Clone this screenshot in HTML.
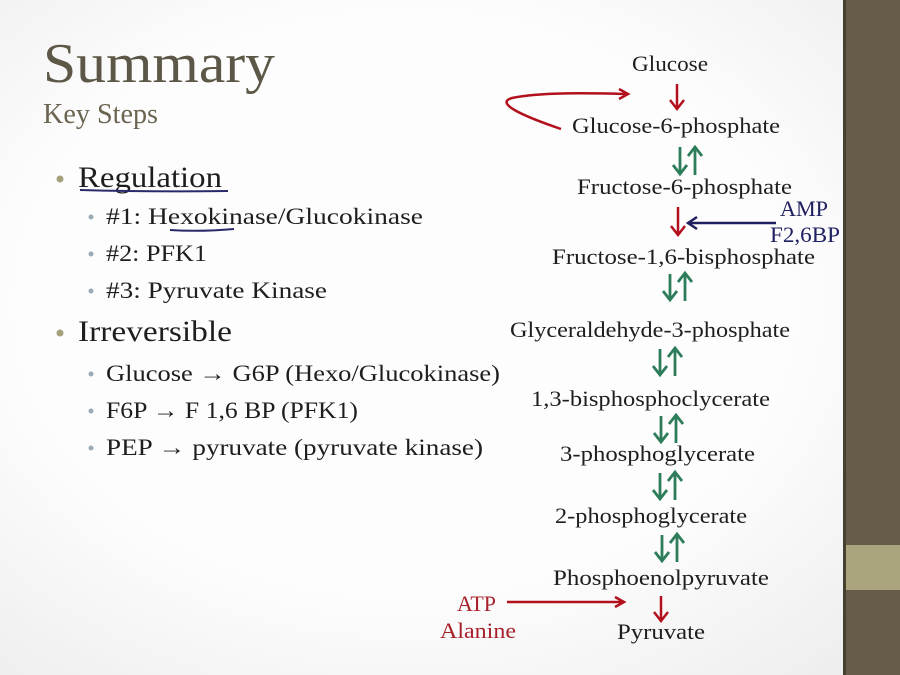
<!DOCTYPE html>
<html><head><style>
body{margin:0;width:900px;height:675px;overflow:hidden;background:radial-gradient(ellipse at 45% 45%,#fdfdfd 55%,#ebebeb 100%);position:relative}
</style></head><body>
<div style="position:absolute;left:843px;top:0;width:3px;height:675px;background:#45402f"></div>
<div style="position:absolute;left:846px;top:0;width:54px;height:675px;background:#675c4a"></div>
<div style="position:absolute;left:846px;top:545px;width:54px;height:45px;background:#aba57e"></div>

<svg width="900" height="675" style="position:absolute;left:0;top:0" font-family="Liberation Serif,serif" fill="#1e1e1e" lengthAdjust="spacingAndGlyphs">
<text x="43" y="82" font-size="56" fill="#5c5746" textLength="232" lengthAdjust="spacingAndGlyphs">Summary</text>
<text x="43" y="123" font-size="29" fill="#6b6450" textLength="115" lengthAdjust="spacingAndGlyphs">Key Steps</text>
<circle cx="60" cy="179" r="3.5" fill="#a3a27a"/>
<text x="78" y="187" font-size="30" textLength="144" lengthAdjust="spacingAndGlyphs">Regulation</text>
<path d="M80 190Q150 192 228 191" stroke="#2a2a6a" stroke-width="2" fill="none"/>
<g fill="#9aabb5"><circle cx="91" cy="217" r="2.5"/><circle cx="91" cy="254" r="2.5"/><circle cx="91" cy="291" r="2.5"/><circle cx="91" cy="374" r="2.5"/><circle cx="91" cy="411" r="2.5"/><circle cx="91" cy="448" r="2.5"/></g>
<g font-size="23">
<text x="106" y="224" textLength="317" lengthAdjust="spacingAndGlyphs">#1: Hexokinase/Glucokinase</text>
<text x="106" y="261" textLength="101" lengthAdjust="spacingAndGlyphs">#2: PFK1</text>
<text x="106" y="298" textLength="221" lengthAdjust="spacingAndGlyphs">#3: Pyruvate Kinase</text>
<text x="106" y="381" textLength="394" lengthAdjust="spacingAndGlyphs">Glucose <tspan font-weight="bold">→</tspan> G6P (Hexo/Glucokinase)</text>
<text x="106" y="418" textLength="252" lengthAdjust="spacingAndGlyphs">F6P <tspan font-weight="bold">→</tspan> F 1,6 BP (PFK1)</text>
<text x="106" y="455" textLength="377" lengthAdjust="spacingAndGlyphs">PEP <tspan font-weight="bold">→</tspan> pyruvate (pyruvate kinase)</text>
</g>
<path d="M170 230Q200 232 234 229" stroke="#2a2a6a" stroke-width="2" fill="none"/>
<circle cx="60" cy="333" r="3.5" fill="#a3a27a"/>
<text x="78" y="341" font-size="30" textLength="154" lengthAdjust="spacingAndGlyphs">Irreversible</text>

<g font-size="22">
<text x="632" y="71" textLength="76" lengthAdjust="spacingAndGlyphs">Glucose</text>
<text x="572" y="133" textLength="208" lengthAdjust="spacingAndGlyphs">Glucose-6-phosphate</text>
<text x="577" y="194" textLength="215" lengthAdjust="spacingAndGlyphs">Fructose-6-phosphate</text>
<text x="552" y="264" textLength="263" lengthAdjust="spacingAndGlyphs">Fructose-1,6-bisphosphate</text>
<text x="510" y="337" textLength="280" lengthAdjust="spacingAndGlyphs">Glyceraldehyde-3-phosphate</text>
<text x="531" y="406" textLength="239" lengthAdjust="spacingAndGlyphs">1,3-bisphosphoclycerate</text>
<text x="560" y="461" textLength="195" lengthAdjust="spacingAndGlyphs">3-phosphoglycerate</text>
<text x="555" y="523" textLength="192" lengthAdjust="spacingAndGlyphs">2-phosphoglycerate</text>
<text x="553" y="585" textLength="216" lengthAdjust="spacingAndGlyphs">Phosphoenolpyruvate</text>
<text x="617" y="639" textLength="88" lengthAdjust="spacingAndGlyphs">Pyruvate</text>
<text x="780" y="216" fill="#1f2060" textLength="48" lengthAdjust="spacingAndGlyphs">AMP</text>
<text x="770" y="242" fill="#1f2060" textLength="70" lengthAdjust="spacingAndGlyphs">F2,6BP</text>
<text x="457" y="611" fill="#a8202a" textLength="39" lengthAdjust="spacingAndGlyphs">ATP</text>
<text x="440" y="638" fill="#a8202a" textLength="76" lengthAdjust="spacingAndGlyphs">Alanine</text>
</g>
<g stroke="#b3101e" stroke-width="2.5" fill="none">
<path d="M677 84V108M670 100L677 109L684 100"/>
<path d="M678 207V234M671 226L678 235L685 226"/>
<path d="M661 596V620M654 612L661 621L668 612"/>
<path d="M561 129C520 115 495 103 512 98C540 92 590 93 627 94M619 89L628 94L619 99"/>
<path d="M507 602H624M615 597L624 602L615 607"/>
</g>
<path d="M776 223H688M697 217L688 223L697 229" stroke="#1f2060" stroke-width="2.5" fill="none"/>
<g stroke="#2e7d5a" stroke-width="2.8" fill="none">
<path d="M680 147V173M673 165L680 174L687 165M695 175V148M688 156L695 147L702 156"/>
<path d="M670 274V299M663 291L670 300L677 291M685 301V274M678 282L685 273L692 282"/>
<path d="M660 349V374M653 366L660 375L667 366M675 376V349M668 357L675 348L682 357"/>
<path d="M661 416V441M654 433L661 442L668 433M676 443V416M669 424L676 415L683 424"/>
<path d="M660 473V498M653 490L660 499L667 490M675 500V473M668 481L675 472L682 481"/>
<path d="M662 535V560M655 552L662 561L669 552M677 562V535M670 543L677 534L684 543"/>
</g>
</svg>
</body></html>
